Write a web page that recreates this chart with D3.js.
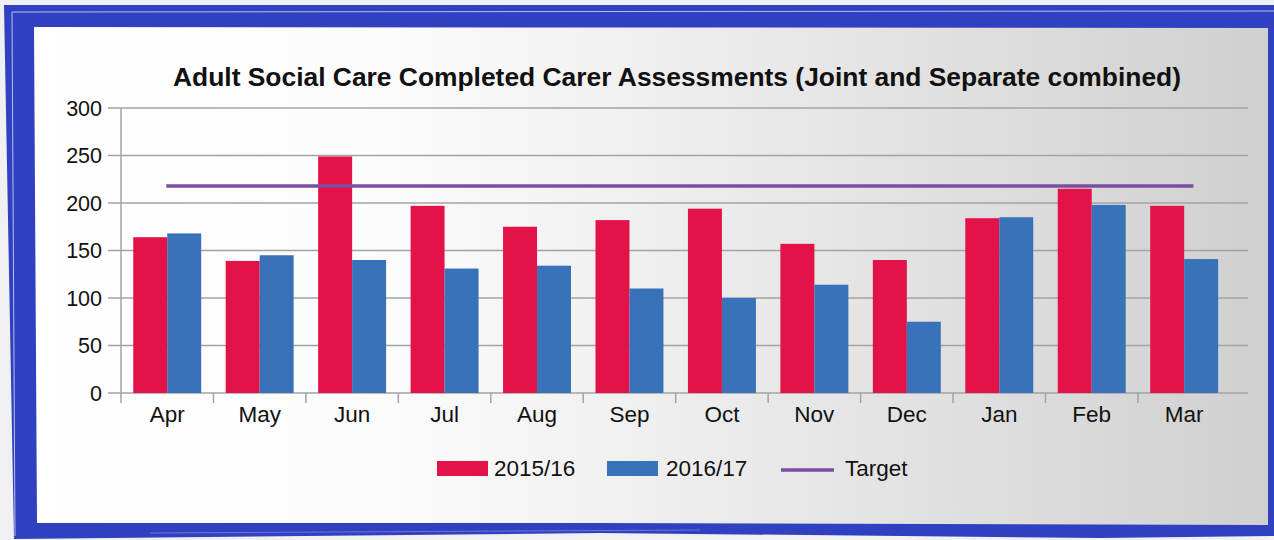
<!DOCTYPE html>
<html><head><meta charset="utf-8">
<script src="https://cdn.jsdelivr.net/npm/d3@7"></script>
<style>html,body{margin:0;padding:0;background:#f2f2f4;}svg{display:block;}</style>
</head><body>
<svg id="c" width="1274" height="540"></svg>
<script>
const months = ["Apr","May","Jun","Jul","Aug","Sep","Oct","Nov","Dec","Jan","Feb","Mar"];
const series2015 = [164,139,249,197,175,182,194,157,140,184,215,197];
const series2016 = [168,145,140,131,134,110,100,114,75,185,198,141];
const targetValue = 218;
const yTicks = [0,50,100,150,200,250,300];
const seriesNames = ["2015/16","2016/17","Target"];
const colors = ["#e31248","#3872b9","#7a4f9e"];

const svg = d3.select("#c");
const defs = svg.append("defs");
const grad = defs.append("linearGradient").attr("id","bg").attr("x1","0").attr("x2","1").attr("y1","0").attr("y2","0");
grad.append("stop").attr("offset","0").attr("stop-color","#ffffff");
grad.append("stop").attr("offset","0.3").attr("stop-color","#fbfbfb");
grad.append("stop").attr("offset","1").attr("stop-color","#d0d0d0");

// outer frame
svg.append("rect").attr("x",0).attr("y",0).attr("width",1274).attr("height",540).attr("fill","#f0f0f2");
svg.append("path").attr("d","M4,5 L1274,5 L1274,536 L1100,538 L600,533 L14,539 Z").attr("fill","#2f40c0");
svg.append("path").attr("d","M12,12 L1274,11").attr("stroke","#b8c0ee").attr("stroke-width",1).attr("fill","none");
svg.append("path").attr("d","M12,12 L15,536").attr("stroke","#b8c0ee").attr("stroke-width",1).attr("fill","none");
svg.append("path").attr("d","M150,533 L700,530").attr("stroke","#6b78d6").attr("stroke-width",1).attr("fill","none");
svg.append("path").attr("d","M34,27 L1268,28 L1268,525 L600,523 L37,523 Z").attr("fill","url(#bg)");

const FONT = "Liberation Sans, Arial, sans-serif";
const pL = 121, pBandEnd = 1230.4, pR = 1248, pT = 108, pB = 393;
const xb = d3.scaleBand().domain(months).range([pL,pBandEnd]);
const x = d3.scaleBand().domain(months).range([pL,pBandEnd]).paddingInner(0.265).paddingOuter(0.1325);
const y = d3.scaleLinear().domain([0,300]).range([pB,pT]);
const x1 = d3.scaleBand().domain([0,1]).range([0,x.bandwidth()]);

const g = svg.append("g");
g.selectAll("line.grid").data(yTicks).join("line")
  .attr("x1",pL-13).attr("x2",pR).attr("y1",d=>y(d)).attr("y2",d=>y(d))
  .attr("stroke","#a3a3a3").attr("stroke-width",1.5);
g.append("line").attr("x1",pL).attr("x2",pL).attr("y1",pT).attr("y2",pB+10).attr("stroke","#a3a3a3").attr("stroke-width",1.5);
g.selectAll("line.xt").data(months.slice(1)).join("line")
  .attr("x1",d=>xb(d)).attr("x2",d=>xb(d))
  .attr("y1",pB).attr("y2",pB+10).attr("stroke","#a3a3a3").attr("stroke-width",1.5);

g.selectAll("text.yl").data(yTicks).join("text")
  .attr("x",pL-19).attr("y",d=>y(d)+7.5).attr("text-anchor","end")
  .attr("font-family",FONT).attr("font-size",21.5).attr("fill","#111")
  .text(d=>d);
g.selectAll("text.xl").data(months).join("text")
  .attr("x",d=>xb(d)+xb.bandwidth()/2).attr("y",pB+29).attr("text-anchor","middle")
  .attr("font-family",FONT).attr("font-size",22.5).attr("fill","#111")
  .text(d=>d);

const data = months.map((m,i)=>({m, vals:[series2015[i],series2016[i]]}));
const bg = svg.append("g");
bg.selectAll("g").data(data).join("g").attr("transform",d=>`translate(${x(d.m)},0)`)
  .selectAll("rect").data(d=>d.vals.map((v,k)=>({v,k}))).join("rect")
  .attr("x",d=>x1(d.k)).attr("width",x1.bandwidth()).attr("y",d=>y(d.v)).attr("height",d=>pB-y(d.v))
  .attr("fill",d=>colors[d.k]);

svg.append("line")
  .attr("x1",xb(months[0])+xb.bandwidth()*0.49)
  .attr("x2",xb(months[11])+xb.bandwidth()*0.6)
  .attr("y1",y(targetValue)).attr("y2",y(targetValue)).attr("stroke",colors[2]).attr("stroke-width",3.5);

svg.append("text").attr("x",677).attr("y",86).attr("text-anchor","middle")
  .attr("font-family",FONT).attr("font-weight","bold").attr("font-size",26.4).attr("fill","#111")
  .text("Adult Social Care Completed Carer Assessments (Joint and Separate combined)");

const lg = svg.append("g").attr("font-family",FONT).attr("font-size",22.5).attr("fill","#111");
const legX = [437,607,781];
const textX = [494,666,845];
[0,1].forEach(i=>{
  lg.append("rect").attr("x",legX[i]).attr("y",461).attr("width",51).attr("height",15).attr("fill",colors[i]);
});
lg.append("line").attr("x1",legX[2]).attr("x2",legX[2]+53).attr("y1",470).attr("y2",470).attr("stroke",colors[2]).attr("stroke-width",3.5);
seriesNames.forEach((n,i)=>{
  lg.append("text").attr("x",textX[i]).attr("y",476).text(n);
});
</script>
</body></html>
